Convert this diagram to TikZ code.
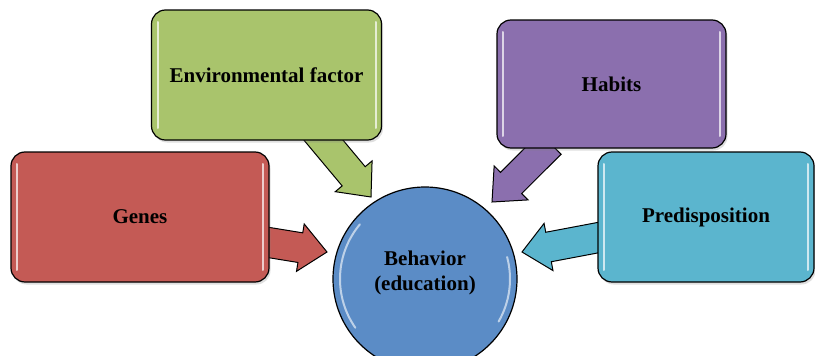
\documentclass[tikz,border=0pt]{standalone}
\usepackage{fontspec}
\setmainfont{Liberation Serif}
\usepackage{tikz}
\usetikzlibrary{calc,backgrounds,shadows}
\definecolor{cgen}{HTML}{C45A55}
\definecolor{cenv}{HTML}{A9C46C}
\definecolor{chab}{HTML}{8B6FAE}
\definecolor{cpre}{HTML}{5BB5CE}
\definecolor{cbeh}{HTML}{5B8CC6}
\tikzset{
  box/.style={draw=black,line width=1.2pt,rounded corners=14pt,align=center,
    font=\fontsize{21}{24}\selectfont\bfseries,
    drop shadow={opacity=0.25,shadow xshift=1.5pt,shadow yshift=-2.5pt},
    path picture={
      \draw[white,line width=2pt,opacity=0.7,line cap=round]
        ([xshift=6pt,yshift=-12pt]path picture bounding box.north west) --
        ([xshift=6pt,yshift=12pt]path picture bounding box.south west)
        ([xshift=-6pt,yshift=-12pt]path picture bounding box.north east) --
        ([xshift=-6pt,yshift=12pt]path picture bounding box.south east);}},
  circ/.style={circle,draw=black,line width=1.2pt,minimum size=184pt,inner sep=0pt,
    path picture={
      \draw[white,line width=2pt,opacity=0.6,line cap=round]
        ([shift={(140:85pt)}]path picture bounding box.center) arc[start angle=140,end angle=215,radius=85pt]
        ([shift={(330:85pt)}]path picture bounding box.center) arc[start angle=330,end angle=375,radius=85pt];}},
  lab/.style={align=center,font=\fontsize{21}{25}\selectfont\bfseries},
  barr/.style={draw=black,line width=1pt,line join=miter},
}
% block arrow: start, tip, colour
\newcommand\blockarr[3]{%
  \coordinate (ba-h) at ($(#2)!27pt!(#1)$);
  \filldraw[barr,fill=#3] ($(#1)!15pt!90:(#2)$) -- ($(ba-h)!15pt!-90:(#1)$) -- ($(ba-h)!24pt!-90:(#1)$)
    -- (#2) -- ($(ba-h)!24pt!90:(#1)$) -- ($(ba-h)!15pt!90:(#1)$) -- ($(#1)!15pt!-90:(#2)$) -- cycle;
}

\begin{document}
\begin{tikzpicture}[x=1pt,y=-1pt]
\useasboundingbox (0,0) rectangle (815,356);
% boxes
\node[box,fill=cenv,minimum width=230pt,minimum height=130pt] (env) at (266.5,75) {Environmental factor};
\node[box,fill=chab,minimum width=229pt,minimum height=128pt] (hab) at (611.5,84) {Habits};
\node[box,fill=cgen,minimum width=258pt,minimum height=130pt] (gen) at (140,217) {Genes};
\node[box,fill=cpre,minimum width=216pt,minimum height=130pt] (pre) at (706,217) {Predisposition};
\node[circ,fill=cbeh] (beh) at (425,279) {};
\node[lab] (behtxt) at ($(beh.center)+(0,-6)$) {Behavior\\(education)};
% arrow ends
\coordinate (genT) at ($(beh.center)+(-98,-27)$);
\coordinate (envT) at ($(beh.center)+(-54,-82)$);
\coordinate (habT) at ($(beh.center)+(67,-77)$);
\coordinate (preT) at ($(beh.center)+(97,-27)$);
\begin{scope}[on background layer]
\blockarr{$(gen.east)+(-4,25)$}{genT}{cgen}
\blockarr{$(env.south)+(49,-10)$}{envT}{cenv}
\blockarr{$(hab.south)+(-61,-5)$}{habT}{chab}
\blockarr{$(pre.west)+(4,20)$}{preT}{cpre}
\end{scope}
\end{tikzpicture}
\end{document}
